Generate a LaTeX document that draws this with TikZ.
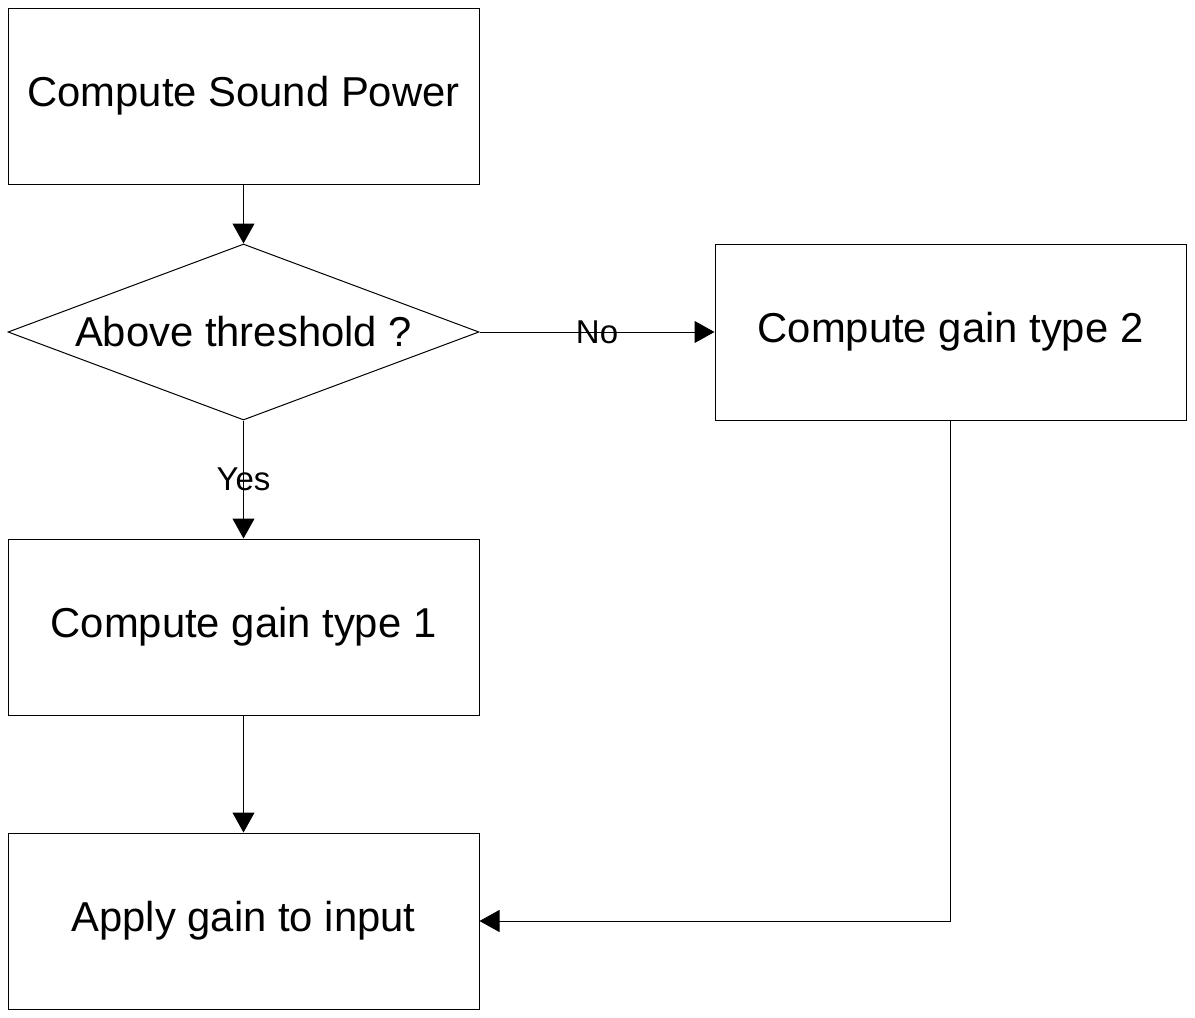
\documentclass[tikz,border=0pt]{standalone}
\usepackage{fontspec}
\setmainfont{Liberation Sans}
\usetikzlibrary{arrows.meta, shapes.geometric, positioning}

\begin{document}
\begin{tikzpicture}[
  box/.style={rectangle, draw=black, line width=0.5pt, minimum width=235.5pt,
              minimum height=88pt, inner sep=0pt, font=\fontsize{20.9}{24}\selectfont},
  decision/.style={diamond, draw=black, line width=0.5pt, aspect=2.68, minimum width=235.5pt,
                   minimum height=88pt, inner sep=0pt, font=\fontsize{20.9}{24}\selectfont},
  arr/.style={-{Triangle[length=10pt, width=11pt]}, line width=0.5pt},
  lbl/.style={font=\fontsize{16.5}{19}\selectfont, inner sep=0pt}
]
\useasboundingbox (0,0) rectangle (597.5pt,-509pt);

\node[box] (power) at (121.75pt,-48pt) {Compute Sound Power};

\node[decision, below=29.5pt of power] (thresh) {Above threshold ?};

\node[box, below=59pt of thresh] (gain1) {Compute gain type 1};

\node[box, below=58.5pt of gain1] (apply) {Apply gain to input};

\node[box, right=117.5pt of thresh] (gain2) {Compute gain type 2};

\draw[arr] (power) -- (thresh);
\draw[arr] (thresh) -- node[lbl] {Yes} (gain1);
\draw[arr] (thresh) -- node[lbl] {No} (gain2);
\draw[arr] (gain1) -- (apply);
\draw[arr] (gain2.south) |- (apply.east);

\end{tikzpicture}
\end{document}
